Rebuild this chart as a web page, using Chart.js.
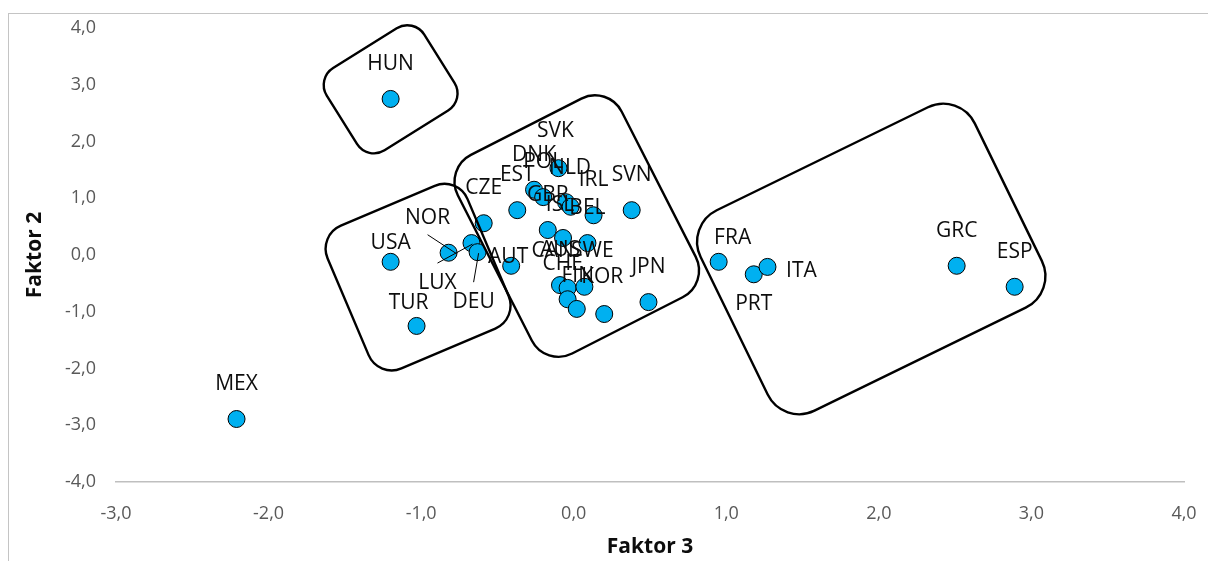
<!DOCTYPE html>
<html>
<head>
<meta charset="utf-8">
<script src="https://cdn.jsdelivr.net/npm/chart.js@4.4.1/dist/chart.umd.min.js"></script>
<style>
  html, body { margin: 0; padding: 0; background: #fff; overflow: hidden; }
  #wrap { position: relative; width: 1208px; height: 561px; }
  #wrap canvas { position: absolute; left: 0; top: 0; }
  #frame { position: absolute; left: 8px; top: 13px; width: 1220px; height: 570px;
           border-top: 1px solid #c4c4c4; border-left: 1px solid #c4c4c4; pointer-events: none; }
</style>
</head>
<body>
<div id="wrap">
  <canvas id="chart" width="1208" height="561"></canvas>
  <div id="frame"></div>
</div>
<script>
// Country codes and their factor scores
const countries = ['HUN','MEX','USA','TUR','NOR','LUX','DEU','CZE','SVK','DNK','POL','NLD','',
                   'EST','IRL','SVN','GBR','ISL','BEL','AUT','AUS','CAN','SWE','CHE','FIN','KOR',
                   'JPN','FRA','PRT','ITA','GRC','ESP'];
const faktor3 = [-1.20,-2.21,-1.20,-1.03,-0.82,-0.67,-0.63,-0.59,-0.10,-0.26,-0.20,-0.05,-0.02,
                 -0.37, 0.13, 0.38,-0.17,-0.07, 0.09,-0.41,-0.09,-0.04, 0.07,-0.04, 0.02, 0.20,
                  0.49, 0.95, 1.18, 1.27, 2.51, 2.89];
const faktor2 = [ 2.75,-2.89,-0.12,-1.25, 0.04, 0.21, 0.05, 0.56, 1.53, 1.15, 1.02, 0.93, 0.85,
                  0.79, 0.70, 0.79, 0.44, 0.30, 0.21,-0.19,-0.53,-0.58,-0.56,-0.78,-0.95,-1.04,
                 -0.83,-0.12,-0.34,-0.21,-0.19,-0.56];

const xTickLabels = ['-3,0','-2,0','-1,0','0,0','1,0','2,0','3,0','4,0'];
const yTickLabels = ['-4,0','-3,0','-2,0','-1,0','0,0','1,0','2,0','3,0','4,0'];

// Label placement (pixel offset from the marker centre); default is above the marker
const labelOffsets = {
  USA: [0,-19], TUR: [-8,-23], NOR: [-21,-35], LUX: [-34,40], DEU: [-4,50],
  SVK: [-3,-37], NLD: [4,-34], ISL: [-3,-33], AUT: [-3,-9], CAN: [-15,-37],
  SWE: [8,-36], CHE: [-5,-35], FIN: [1,-33], KOR: [-2,-37],
  FRA: [14,-24], PRT: [0,30], ITA: [34,4]
};
const leaderLabels = ['NOR','LUX','DEU'];

// Cluster outlines: centre in data units, size in pixels, rotation in degrees
const clusters = [
  { cx: -1.20, cy:  2.92, w: 115, h:  97, angle: -32, r: 20 },
  { cx: -1.02, cy: -0.39, w: 152, h: 155, angle: -23, r: 25 },
  { cx:  0.02, cy:  0.51, w: 184, h: 223, angle: -27, r: 30 },
  { cx:  1.95, cy: -0.07, w: 305, h: 223, angle: -26, r: 35 }
];

const points = faktor3.map((x, i) => ({ x: x, y: faktor2[i] }));

function roundedRectPath(ctx, w, h, r) {
  const x = -w / 2, y = -h / 2;
  ctx.beginPath();
  ctx.moveTo(x + r, y);
  ctx.lineTo(x + w - r, y);
  ctx.arcTo(x + w, y, x + w, y + r, r);
  ctx.lineTo(x + w, y + h - r);
  ctx.arcTo(x + w, y + h, x + w - r, y + h, r);
  ctx.lineTo(x + r, y + h);
  ctx.arcTo(x, y + h, x, y + h - r, r);
  ctx.lineTo(x, y + r);
  ctx.arcTo(x, y, x + r, y, r);
  ctx.closePath();
}

const labelPlugin = {
  id: 'countryLabels',
  afterDatasetsDraw(chart) {
    const ctx = chart.ctx;
    const meta = chart.getDatasetMeta(0);
    ctx.save();
    ctx.font = '21px "Open Sans"';
    ctx.fillStyle = '#0d0d0d';
    ctx.textAlign = 'center';
    ctx.textBaseline = 'middle';
    meta.data.forEach((el, i) => {
      const name = countries[i];
      if (!name) return;
      const off = labelOffsets[name] || [0, -35];
      const lx = el.x + off[0], ly = el.y + off[1];
      ctx.fillText(name, lx, ly);
      if (leaderLabels.includes(name)) {
        ctx.beginPath();
        ctx.strokeStyle = '#000';
        ctx.lineWidth = 1;
        ctx.moveTo(lx, ly + (off[1] < 0 ? 17 : -20));
        ctx.lineTo(el.x + (off[1] < 0 ? 8 : 1), el.y + 1);
        ctx.stroke();
      }
    });
    ctx.restore();
  }
};

const clusterPlugin = {
  id: 'clusterOutlines',
  afterDraw(chart) {
    const ctx = chart.ctx;
    const xs = chart.scales.x, ys = chart.scales.y;
    ctx.save();
    ctx.strokeStyle = '#000';
    ctx.lineWidth = 2.4;
    clusters.forEach(c => {
      ctx.save();
      ctx.translate(xs.getPixelForValue(c.cx), ys.getPixelForValue(c.cy));
      ctx.rotate(c.angle * Math.PI / 180);
      roundedRectPath(ctx, c.w, c.h, c.r);
      ctx.stroke();
      ctx.restore();
    });
    ctx.restore();
  }
};

new Chart(document.getElementById('chart'), {
  type: 'scatter',
  data: {
    datasets: [{
      data: points,
      pointRadius: 8.5,
      pointHoverRadius: 8.5,
      pointBackgroundColor: '#00B0F0',
      pointBorderColor: '#000',
      pointBorderWidth: 1
    }]
  },
  options: {
    responsive: false,
    animation: false,
    devicePixelRatio: 1,
    layout: { padding: { left: 0, right: 24, top: 28, bottom: 0 } },
    plugins: { legend: { display: false }, tooltip: { enabled: false } },
    scales: {
      x: {
        type: 'linear', min: -3, max: 4,
        ticks: {
          stepSize: 1, padding: 21, color: '#595959',
          font: { family: 'Open Sans', size: 18 },
          callback: (v, i) => xTickLabels[i]
        },
        grid: { display: false, drawTicks: false },
        border: { display: true, color: '#bfbfbf', width: 1.5 },
        title: {
          display: true, text: 'Faktor 3', color: '#0d0d0d',
          font: { family: 'Open Sans', size: 21, weight: 'bold' },
          padding: { top: 0, bottom: 1 }
        },
        afterFit: s => { s.height = 79; s.paddingLeft = 0; s.paddingRight = 0; }
      },
      y: {
        type: 'linear', min: -4, max: 4,
        ticks: {
          stepSize: 1, padding: 20, color: '#595959',
          font: { family: 'Open Sans', size: 18 },
          callback: (v, i) => yTickLabels[i]
        },
        grid: { display: false, drawTicks: false },
        border: { display: false },
        title: {
          display: true, text: 'Faktor 2', color: '#0d0d0d',
          font: { family: 'Open Sans', size: 21, weight: 'bold' },
          padding: { top: 22, bottom: 0 }
        },
        afterFit: s => { s.width = 116; s.paddingTop = 0; s.paddingBottom = 0; }
      }
    }
  },
  plugins: [labelPlugin, clusterPlugin]
});
</script>
</body>
</html>
